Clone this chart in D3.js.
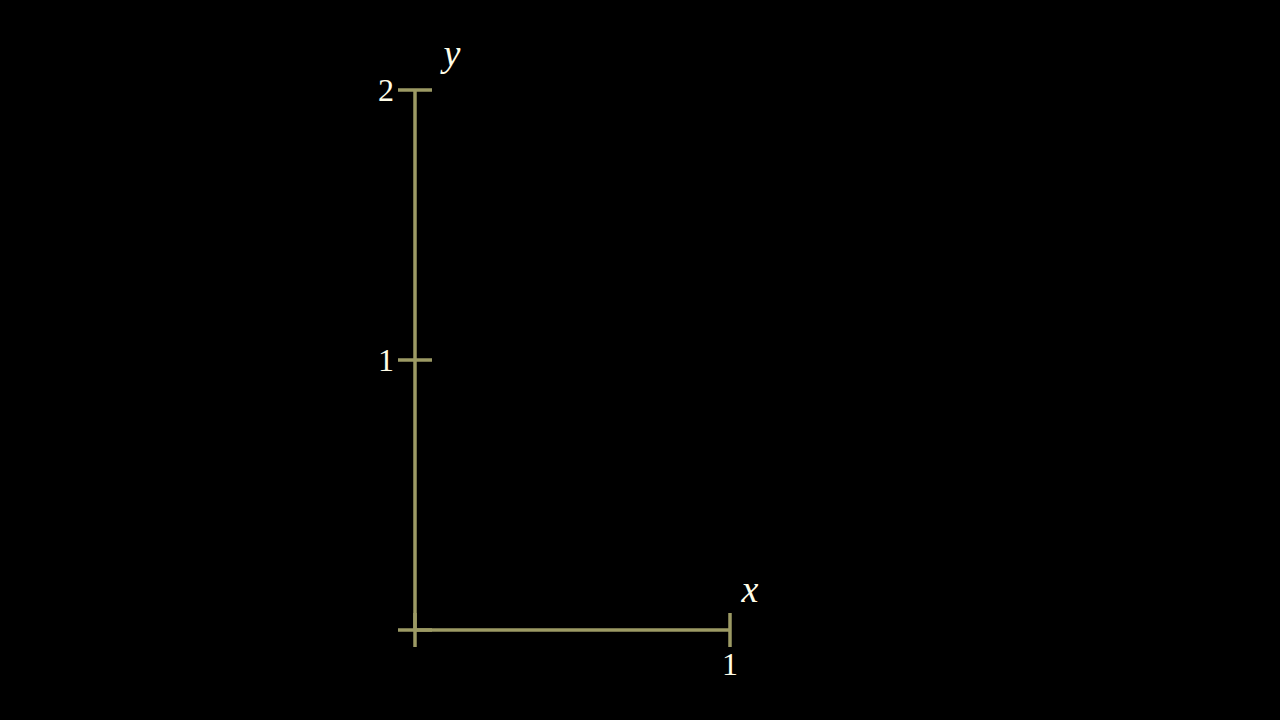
<!DOCTYPE html>
<html><head><meta charset="utf-8">
<script src="https://cdn.jsdelivr.net/npm/d3@7"></script>
<style>html,body{margin:0;padding:0;background:#000;}svg{display:block;}</style>
</head><body>
<svg id="c" width="1280" height="720"></svg>
<script>
const xDomain = [0, 1];
const yDomain = [0, 2];
const xTicks = [0, 1];
const yTicks = [0, 1, 2];
const xTickLabels = ["", "1"];
const yTickLabels = ["", "1", "2"];
const xAxisLabel = "x";
const yAxisLabel = "y";

const axisColor = "#9c9a64";
const textColor = "#fffde8";
const svg = d3.select("#c");
const x = d3.scaleLinear().domain(xDomain).range([415, 730]);
const y = d3.scaleLinear().domain(yDomain).range([630, 90]);
const tl = 17;

const g = svg.append("g");
g.append("line").attr("x1", x(xDomain[0])).attr("x2", x(xDomain[1]))
  .attr("y1", y(0)).attr("y2", y(0)).attr("stroke", axisColor).attr("stroke-width", 3.5);
g.append("line").attr("x1", x(0)).attr("x2", x(0))
  .attr("y1", y(yDomain[0])).attr("y2", y(yDomain[1])).attr("stroke", axisColor).attr("stroke-width", 3.5);
g.selectAll(".xt").data(xTicks).join("line")
  .attr("x1", d => x(d)).attr("x2", d => x(d))
  .attr("y1", y(0) - tl).attr("y2", y(0) + tl)
  .attr("stroke", axisColor).attr("stroke-width", 3.5);
g.selectAll(".yt").data(yTicks).join("line")
  .attr("y1", d => y(d)).attr("y2", d => y(d))
  .attr("x1", x(0) - tl).attr("x2", x(0) + tl)
  .attr("stroke", axisColor).attr("stroke-width", 3.5);
g.selectAll(".xl").data(xTicks).join("text")
  .attr("x", d => x(d)).attr("y", y(0) + 45)
  .attr("text-anchor", "middle")
  .attr("font-family", "'Liberation Serif', 'DejaVu Serif', serif")
  .attr("font-size", 32).attr("fill", textColor)
  .text((d, i) => xTickLabels[i]);
g.selectAll(".yl").data(yTicks).join("text")
  .attr("x", x(0) - 21).attr("y", d => y(d) + 11)
  .attr("text-anchor", "end")
  .attr("font-family", "'Liberation Serif', 'DejaVu Serif', serif")
  .attr("font-size", 32).attr("fill", textColor)
  .text((d, i) => yTickLabels[i]);
g.append("text").attr("x", x(xDomain[1]) + 20).attr("y", y(0) - 28)
  .attr("text-anchor", "middle").attr("font-style", "italic")
  .attr("font-family", "'Liberation Serif', 'DejaVu Serif', serif")
  .attr("font-size", 38).attr("fill", textColor).text(xAxisLabel);
g.append("text").attr("x", x(0) + 37).attr("y", y(yDomain[1]) - 24)
  .attr("text-anchor", "middle").attr("font-style", "italic")
  .attr("font-family", "'Liberation Serif', 'DejaVu Serif', serif")
  .attr("font-size", 38).attr("fill", textColor).text(yAxisLabel);
</script>
</body></html>
